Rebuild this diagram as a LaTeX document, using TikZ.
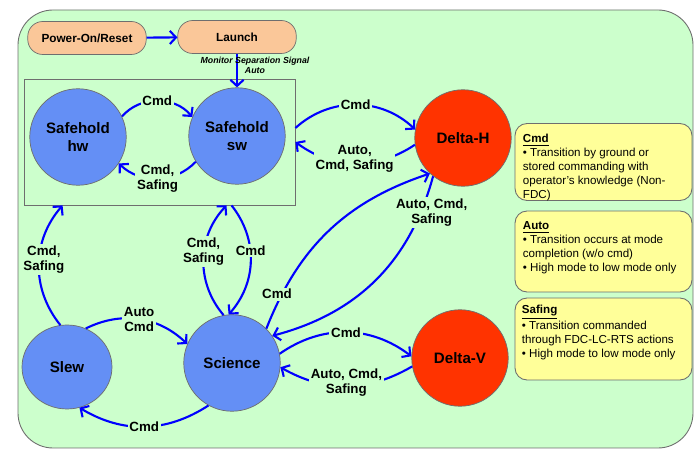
\documentclass[tikz,border=0pt]{standalone}
\usepackage{fontspec}
\setmainfont{Liberation Sans}
\usepackage{xcolor}
\usetikzlibrary{arrows.meta}
\usetikzlibrary{shapes.geometric}
\definecolor{bggreen}{RGB}{204,255,204}
\definecolor{peach}{RGB}{250,199,153}
\definecolor{modeblue}{RGB}{100,143,245}
\definecolor{modered}{RGB}{255,51,0}
\definecolor{noteyellow}{RGB}{255,255,153}
\definecolor{edgegray}{RGB}{110,110,110}
\definecolor{arrowblue}{RGB}{0,0,255}

\tikzset{
  mode/.style={circle, draw=edgegray, line width=0.4pt, inner sep=0pt, minimum size=1.93cm,
    align=center, font=\fontsize{8.6}{10.3}\selectfont\bfseries},
  startbox/.style={rectangle, rounded corners=0.3cm, draw=edgegray, fill=peach, line width=0.4pt,
    minimum width=2.37cm, minimum height=0.66cm, font=\fontsize{6.7}{8}\selectfont\bfseries},
  groupbox/.style={rectangle, draw=edgegray, line width=0.5pt, inner sep=0pt,
    minimum width=5.42cm, minimum height=2.52cm},
  trans/.style={draw=arrowblue, line width=1.2pt, -{Straight Barb[length=3.5pt,width=7.5pt]}},
  lbl/.style={fill=bggreen, inner sep=1pt, align=center, font=\fontsize{7.6}{8.6}\selectfont\bfseries},
  mon/.style={inner sep=0pt, align=center, font=\fontsize{5}{5.7}\selectfont\bfseries\itshape},
  notebox/.style={rectangle, rounded corners=0.24cm, draw=edgegray, fill=noteyellow, line width=0.5pt,
    minimum width=3.54cm, inner sep=0pt},
  notetext/.style={anchor=north west, inner sep=0pt, align=left, font=\fontsize{6.6}{7.9}\selectfont}
}

\begin{document}
\begin{tikzpicture}[x=0.02cm, y=-0.02cm]
\useasboundingbox (0,0) rectangle (694,449);
\filldraw[fill=bggreen, draw=edgegray, line width=0.5pt, rounded corners=0.7cm] (18,10) rectangle (693,448);

% modes
\node[startbox] (power) at (87,38) {Power-On/Reset};
\node[startbox] (launch) at (237,37) {Launch};
\node[groupbox] (safe) at (159.5,142) {};

\node[mode, fill=modeblue] (hw) at (78,137) {Safehold\\hw};
\node[mode, fill=modeblue] (sw) at (237,136) {Safehold\\sw};
\node[mode, fill=modered] (dh) at (463,138) {Delta-H};
\node[mode, fill=modeblue] (sci) at (232,363) {Science};
\node[mode, fill=modered] (dv) at (460,358) {Delta-V};
\node[mode, ellipse, fill=modeblue, minimum width=1.8cm, minimum height=1.68cm] (slew) at (67,367) {Slew};

% transitions
\draw[trans] (power) -- (launch);
\draw[trans] (launch) -- node[mon, pos=0.33, xshift=0.36cm]{Monitor Separation Signal\\Auto} (sw);

\draw[trans] (hw.25) to[bend left=50] node[lbl]{Cmd} (sw.157);
\draw[trans] (sw.212) to[bend left=45] node[lbl]{Cmd,\\Safing} (hw.-33);

\draw[trans] ([yshift=0.28cm]safe.east) to[bend left=43] node[lbl]{Cmd} (dh.170);
\draw[trans] (dh.188) to[bend left=35] node[lbl, yshift=0.1cm]{Auto,\\Cmd, Safing} (safe.east);

\draw[trans] (sci.45) to[bend left=25] node[lbl, pos=0.15, xshift=-0.1cm]{Cmd} (dh.227);
\draw[trans] (dh.232) to[bend left=30] node[lbl, pos=0.15, xshift=0.22cm]{Auto, Cmd,\\Safing} (sci.34);

\draw[trans] (sci.11) to[bend left=36] node[lbl]{Cmd} (dv.178);
\draw[trans] (dv.190) to[bend left=30] node[lbl, yshift=0.08cm]{Auto, Cmd,\\Safing} (sci.-5);

\draw[trans] (sci.241) to[bend left=32] node[lbl]{Cmd} (slew.-73);
\draw[trans] (slew.64) to[bend left=35] node[lbl]{Auto\\Cmd} (sci.157);

\draw[trans] (slew.99) to[bend left=40] node[lbl, xshift=0.1cm, yshift=0.1cm]{Cmd,\\Safing} ([xshift=0.78cm]safe.south west);
\draw[trans] (sci.100) to[bend left=42] node[lbl, yshift=0.16cm]{Cmd,\\Safing} ([xshift=4.06cm]safe.south west);
\draw[trans] ([xshift=4.16cm]safe.south west) to[bend left=40] node[lbl, yshift=0.2cm]{Cmd} (sci.94);

% legend
\node[notebox, minimum height=1.54cm] (cmdbox) at (603.5,162) {};
\node[notebox, minimum height=1.62cm] (autobox) at (603.5,251.5) {};
\node[notebox, minimum height=1.64cm] (safbox) at (603.5,339) {};

\node[notetext] (cmdtext) at ([xshift=0.16cm, yshift=-0.22cm]cmdbox.north west)
  {\textbf{\underline{Cmd}}\\
   • Transition by ground or\\
   stored commanding with\\
   operator’s knowledge (Non-\\
   FDC)};
\node[notetext] (autotext) at ([xshift=0.16cm, yshift=-0.22cm]autobox.north west)
  {\textbf{\underline{Auto}}\\
   • Transition occurs at mode\\
   completion (w/o cmd)\\
   • High mode to low mode only};
\node[notetext] (saftext) at ([xshift=0.14cm, yshift=-0.15cm]safbox.north west)
  {\textbf{\underline{Safing}}\\
   • Transition commanded\\
   through FDC-LC-RTS actions\\
   • High mode to low mode only};
\end{tikzpicture}
\end{document}
